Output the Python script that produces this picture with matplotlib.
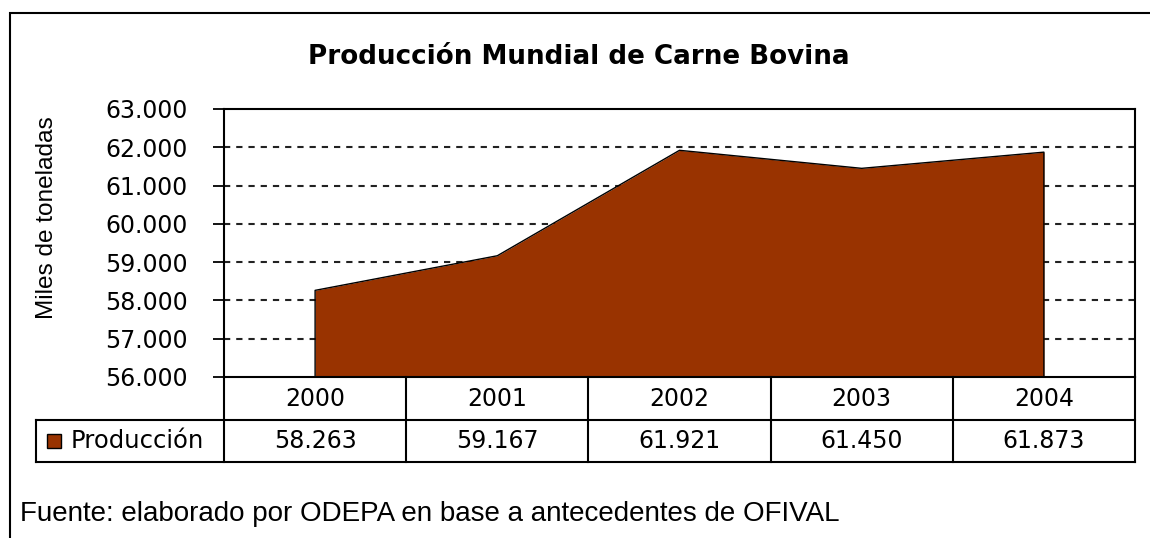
import matplotlib
matplotlib.use("Agg")
import matplotlib.pyplot as plt
from matplotlib.patches import Rectangle
from matplotlib.transforms import blended_transform_factory

# ---- data ----
years = ["2000", "2001", "2002", "2003", "2004"]
produccion = [58263, 59167, 61921, 61450, 61873]
y_ticks = [56000, 57000, 58000, 59000, 60000, 61000, 62000, 63000]
series_name = "Producción"
title = "Producción Mundial de Carne Bovina"
ylabel = "Miles de toneladas"
source = "Fuente: elaborado por ODEPA en base a antecedentes de OFIVAL"

FILL = "#993300"
W, H = 1150, 538
plt.rcParams["lines.scale_dashes"] = False


def fx(px):
    return px / W


def fy(py):
    return 1 - py / H


def fmt(v):
    return f"{v:,.0f}".replace(",", ".")


fig = plt.figure(figsize=(W / 100, H / 100), dpi=100)
fig.patch.set_facecolor("white")

# outer frame
fig.patches.append(Rectangle((fx(10), fy(560)), fx(1160) - fx(10), fy(13) - fy(560),
                             transform=fig.transFigure, fill=False, edgecolor="black",
                             linewidth=1.5))

L, T, R, B = 224, 109, 1135, 377
ax = fig.add_axes([fx(L), fy(B), fx(R) - fx(L), fy(T) - fy(B)])
n = len(years)
xs = [i + 0.5 for i in range(n)]
ax.set_xlim(0, n)
ax.set_ylim(y_ticks[0], y_ticks[-1])

# grid
for v in y_ticks[1:-1]:
    ax.axhline(v, color="#222222", linewidth=1.5, linestyle=(0, (4.5, 4.3)), zorder=1)

ax.fill_between(xs, produccion, y_ticks[0], color=FILL, zorder=2, linewidth=0)
ax.plot([xs[0]] + xs + [xs[-1]], [y_ticks[0]] + produccion + [y_ticks[0]],
        color="black", linewidth=1.0, zorder=3)

ax.set_yticks(y_ticks)
ax.set_yticklabels([fmt(v) for v in y_ticks], fontsize=17, family="DejaVu Sans")
ax.tick_params(axis="y", direction="out", length=8, width=1.3, pad=18)
ax.set_xticks([])
for s in ax.spines.values():
    s.set_linewidth(1.5)
    s.set_color("black")

# data table under the axes
tr = blended_transform_factory(ax.transData, ax.transAxes)
hpx = B - T
row1 = (B - 420) / hpx
row2 = (B - 462) / hpx
colw = (R - L) / n
legx = (36 - L) / colw
lw = 1.5
for i in range(n + 1):
    ax.plot([i, i], [0, row2], transform=tr, color="black", linewidth=lw, clip_on=False)
ax.plot([legx, legx], [row1, row2], transform=tr, color="black", linewidth=lw, clip_on=False)
ax.plot([legx, n], [row1, row1], transform=tr, color="black", linewidth=lw, clip_on=False)
ax.plot([legx, n], [row2, row2], transform=tr, color="black", linewidth=lw, clip_on=False)

for x, yr, v in zip(xs, years, produccion):
    ax.text(x, (row1 + 0) / 2, yr, transform=tr, ha="center", va="center",
            fontsize=17, family="DejaVu Sans", clip_on=False)
    ax.text(x, (row1 + row2) / 2, fmt(v), transform=tr, ha="center", va="center",
            fontsize=17, family="DejaVu Sans", clip_on=False)

ax.plot([(54 - L) / colw], [(row1 + row2) / 2], transform=tr, marker="s",
        markersize=10.5, markerfacecolor=FILL, markeredgecolor="black",
        markeredgewidth=1.0, clip_on=False)
ax.text((71 - L) / colw, (row1 + row2) / 2, series_name, transform=tr,
        ha="left", va="center", fontsize=17.5, family="DejaVu Sans", clip_on=False)

fig.text(fx(579), fy(57), title, ha="center", va="center", fontsize=18.8,
         fontweight="bold", family="DejaVu Sans")
fig.text(fx(47), fy(218), ylabel, ha="center", va="center", rotation=90,
         fontsize=17.6, family="Liberation Sans")
fig.text(fx(20), fy(514), source, ha="left", va="center", fontsize=20,
         family="Liberation Sans")

fig.savefig("out.png", dpi=100, facecolor="white")
